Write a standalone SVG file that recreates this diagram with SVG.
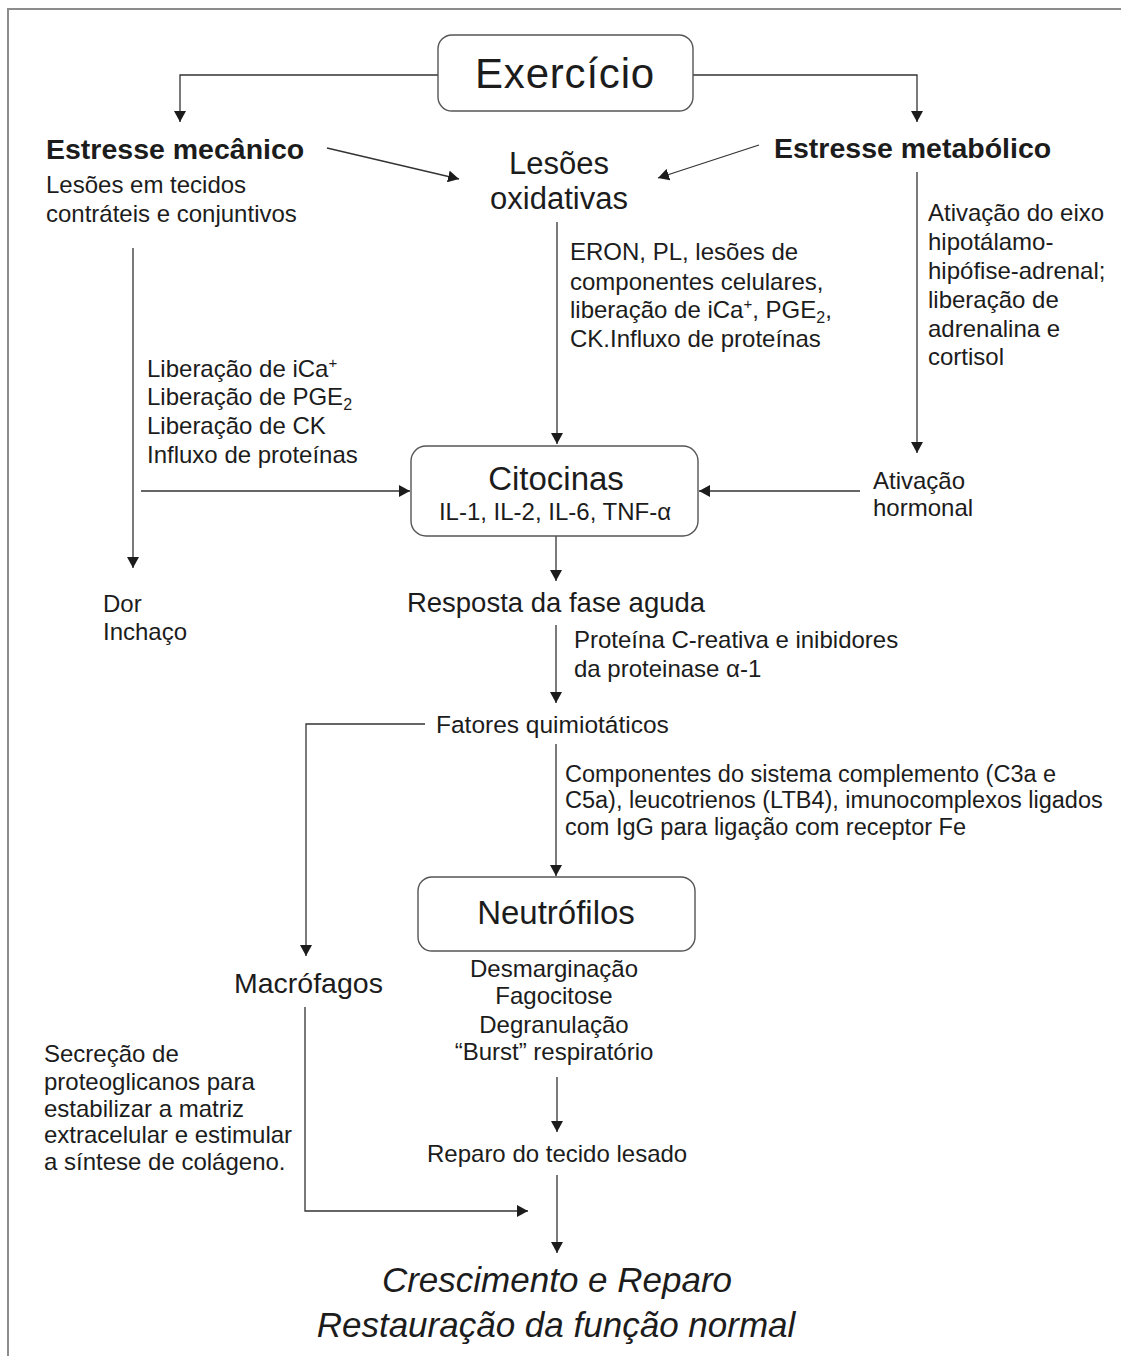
<svg xmlns="http://www.w3.org/2000/svg" width="1121" height="1356" viewBox="0 0 1121 1356">
<defs>
<style>
text{font-family:"Liberation Sans",Arial,Helvetica,sans-serif;fill:#1c1c1c;font-size:24px}
.m{text-anchor:middle}
.b{font-weight:bold;font-size:28.5px}
.big{font-size:33px}
.i{font-style:italic;font-size:35px}
.box{fill:#fff;stroke:#555;stroke-width:1.4}
.c{fill:none;stroke:#333;stroke-width:1.3}
.sub{font-size:16px}
.sup{font-size:15px}
</style>
<marker id="ah" viewBox="0 0 11 12" refX="11" refY="6" markerWidth="11" markerHeight="12" markerUnits="userSpaceOnUse" orient="auto">
<path d="M0,0 L11,6 L0,12 z" fill="#1c1c1c"/>
</marker>
</defs>
<rect width="1121" height="1356" fill="#fff"/>
<path d="M8,1356 V9 H1121" fill="none" stroke="#8c8c8c" stroke-width="2"/>

<g id="connectors" class="c">
<path d="M438,75 H180 V122" marker-end="url(#ah)"/>
<path d="M693,75 H917 V122" marker-end="url(#ah)"/>
<path d="M327,148 L459,179" marker-end="url(#ah)"/>
<path d="M759,145 L658,178" marker-end="url(#ah)"/>
<path d="M133,248 V568" marker-end="url(#ah)"/>
<path d="M141,491 H410" marker-end="url(#ah)"/>
<path d="M557,222 V444" marker-end="url(#ah)"/>
<path d="M917,172 V453" marker-end="url(#ah)"/>
<path d="M860,491 H699" marker-end="url(#ah)"/>
<path d="M556,536 V581" marker-end="url(#ah)"/>
<path d="M556,625 V703" marker-end="url(#ah)"/>
<path d="M425,724 H306 V956" marker-end="url(#ah)"/>
<path d="M556,744 V876" marker-end="url(#ah)"/>
<path d="M557,1077 V1132" marker-end="url(#ah)"/>
<path d="M305,1007 V1211 H528" marker-end="url(#ah)"/>
<path d="M557,1175 V1253" marker-end="url(#ah)"/>
</g>

<g id="exercicio">
<rect class="box" x="438" y="35" width="255" height="76" rx="14"/>
<text class="m" x="565" y="88" style="font-size:42px;letter-spacing:0.8px">Exercício</text>
</g>

<g id="estresse-mecanico">
<text class="b" x="46" y="159">Estresse mecânico</text>
<text x="46" y="193">Lesões em tecidos</text>
<text x="46" y="222">contráteis e conjuntivos</text>
</g>

<g id="lesoes-oxidativas">
<text class="m" x="559" y="174" style="font-size:31px">Lesões</text>
<text class="m" x="559" y="209" style="font-size:31px">oxidativas</text>
</g>

<g id="estresse-metabolico">
<text class="b" x="774" y="158">Estresse metabólico</text>
</g>

<g id="label-oxidativas">
<text x="570" y="260">ERON, PL, lesões de</text>
<text x="570" y="290">componentes celulares,</text>
<text x="570" y="318">liberação de iCa<tspan class="sup" dy="-9">+</tspan><tspan dy="9">, PGE</tspan><tspan class="sub" dy="5">2</tspan><tspan dy="-5">,</tspan></text>
<text x="570" y="347">CK.Influxo de proteínas</text>
</g>

<g id="label-metabolico">
<text x="928" y="221">Ativação do eixo</text>
<text x="928" y="250">hipotálamo-</text>
<text x="928" y="279">hipófise-adrenal;</text>
<text x="928" y="308">liberação de</text>
<text x="928" y="337">adrenalina e</text>
<text x="928" y="365">cortisol</text>
</g>

<g id="label-mecanico">
<text x="147" y="377">Liberação de iCa<tspan class="sup" dy="-9">+</tspan></text>
<text x="147" y="405">Liberação de PGE<tspan class="sub" dy="5">2</tspan></text>
<text x="147" y="434">Liberação de CK</text>
<text x="147" y="463">Influxo de proteínas</text>
</g>

<g id="citocinas">
<rect class="box" x="411" y="446" width="287" height="90" rx="15"/>
<text class="m big" x="556" y="490">Citocinas</text>
<text class="m" x="555" y="520">IL-1, IL-2, IL-6, TNF-α</text>
</g>

<g id="ativacao-hormonal">
<text x="873" y="489">Ativação</text>
<text x="873" y="516">hormonal</text>
</g>

<g id="dor-inchaco">
<text x="103" y="612">Dor</text>
<text x="103" y="640">Inchaço</text>
</g>

<g id="resposta-fase-aguda">
<text class="m" x="556" y="612" style="font-size:27.5px">Resposta da fase aguda</text>
</g>

<g id="label-resposta">
<text x="574" y="648">Proteína C-reativa e inibidores</text>
<text x="574" y="677">da proteinase α-1</text>
</g>

<g id="fatores-quimiotaticos">
<text x="436" y="733" style="font-size:24.5px">Fatores quimiotáticos</text>
</g>

<g id="label-fatores">
<text x="565" y="782" style="font-size:23.5px">Componentes do sistema complemento (C3a e</text>
<text x="565" y="808" style="font-size:23.5px">C5a), leucotrienos (LTB4), imunocomplexos ligados</text>
<text x="565" y="835" style="font-size:23.5px">com IgG para ligação com receptor Fe</text>
</g>

<g id="neutrofilos">
<rect class="box" x="418" y="877" width="277" height="74" rx="14"/>
<text class="m big" x="556" y="924">Neutrófilos</text>
</g>

<g id="label-neutrofilos">
<text class="m" x="554" y="977">Desmarginação</text>
<text class="m" x="554" y="1004">Fagocitose</text>
<text class="m" x="554" y="1033">Degranulação</text>
<text class="m" x="554" y="1060">“Burst” respiratório</text>
</g>

<g id="macrofagos">
<text x="234" y="993" style="font-size:28.5px">Macrófagos</text>
</g>

<g id="label-macrofagos">
<text x="44" y="1062">Secreção de</text>
<text x="44" y="1090">proteoglicanos para</text>
<text x="44" y="1117">estabilizar a matriz</text>
<text x="44" y="1143">extracelular e estimular</text>
<text x="44" y="1170">a síntese de colágeno.</text>
</g>

<g id="reparo-tecido">
<text x="427" y="1162">Reparo do tecido lesado</text>
</g>

<g id="crescimento-reparo">
<text class="m i" x="557" y="1292">Crescimento e Reparo</text>
<text class="m i" x="556" y="1337">Restauração da função normal</text>
</g>
</svg>
